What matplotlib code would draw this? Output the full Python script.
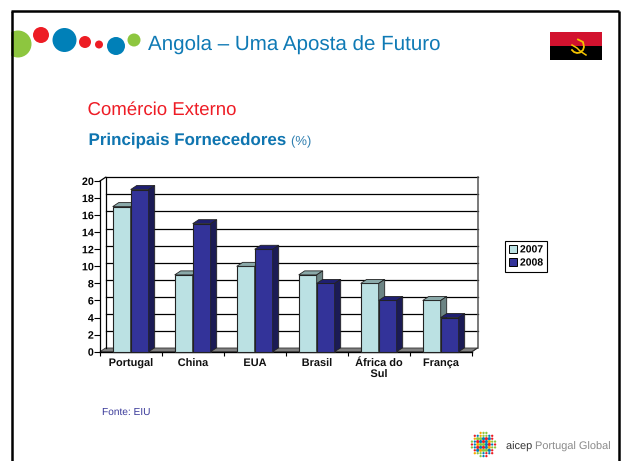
import matplotlib
matplotlib.use("Agg")
import matplotlib.pyplot as plt
import matplotlib.patheffects as pe
from matplotlib.patches import Circle, Polygon, Rectangle

plt.rcParams['font.family'] = ['Liberation Sans', 'DejaVu Sans']
plt.rcParams['text.hinting'] = 'no_hinting'
# texto desenhado como contorno: baselines exatas, sem arredondar ao pixel
plt.rcParams['path.effects'] = [pe.Normal()]

# data
paises = ["Portugal", "China", "EUA", "Brasil", "África do\nSul", "França"]
valores_2007 = [17, 9, 10, 9, 8, 6]
valores_2008 = [19, 15, 12, 8, 6, 4]
y_ticks = list(range(0, 21, 2))

W, H = 623, 461
fig = plt.figure(figsize=(W / 100, H / 100), dpi=100, facecolor="white")

# camada de fundo em pixels (slide)
bg = fig.add_axes([0, 0, 1, 1])
bg.set_xlim(0, W)
bg.set_ylim(H, 0)
bg.axis("off")

# bolas do logotipo
verde, vermelho, azul = "#8dc63f", "#ed1c24", "#0080b8"
bolas = [(18, 44, 13.5, verde), (41, 35, 8, vermelho), (64.5, 40, 12, azul),
         (85, 42, 6, vermelho), (99, 44.5, 4, vermelho), (116, 46, 9, azul),
         (134, 40, 6.5, verde)]
for x, y, r, c in bolas:
    bg.add_patch(Circle((x, y), r, fc=c, ec="none"))
bg.add_patch(Rectangle((0, 0), 11, H, fc="white", ec="none"))

# moldura do slide
bg.plot([11.5, 11.5], [H, 11], color="black", lw=1.8, solid_capstyle="butt")
bg.plot([11, 618.5], [11, 11], color="black", lw=1.8, solid_capstyle="butt")
bg.plot([618.5, 618.5], [11, H], color="black", lw=1.8, solid_capstyle="butt")

bg.text(148, 50, "Angola – Uma Aposta de Futuro", fontsize=14.8, color="#0f7ab5", va="baseline")
bg.text(87.5, 115, "Comércio Externo", fontsize=13.4, color="#ee1c25", va="baseline")
bg.text(88.5, 145, "Principais Fornecedores", fontsize=12.2, color="#0f75b0",
        fontweight="bold", va="baseline")
bg.text(291, 145, "(%)", fontsize=9.4, color="#2f7fb0", va="baseline")
bg.text(102, 415, "Fonte: EIU", fontsize=7.3, color="#3a3a9a", va="baseline")

# bandeira
bg.add_patch(Rectangle((550, 32), 52, 14, fc="#d2122e", ec="none"))
bg.add_patch(Rectangle((550, 46), 52, 14, fc="black", ec="none"))
bg.plot([572, 574, 577, 580, 583, 584, 583, 578], [50, 52, 53, 52.5, 50, 47, 42, 39.5], color="#f5c400", lw=1.3)
bg.plot([572, 577, 580, 586], [45, 48, 51, 55], color="#f5c400", lw=1.1)

# logotipo aicep
cores_logo = ["#ed1c24", "#0080b8", "#8dc63f", "#0080b8", "#f7a600", "#0080b8", "#ed1c24", "#8dc63f"]
k = 0
for i in range(-4, 5):
    for j in range(-4, 5):
        d = (i ** 2 + j ** 2) ** 0.5
        if d <= 4.4:
            r = 1.6 if d < 3 else 1.15
            bg.add_patch(Circle((483.5 + j * 2.9, 444.5 + i * 2.9), r, fc=cores_logo[(k * 3 + i) % 8], ec="none"))
            k += 1
bg.text(506, 449, "aicep", fontsize=7.9, color="#333333", va="baseline")
bg.text(535, 449, "Portugal Global", fontsize=7.9, color="#8a8a8a", va="baseline")

# grafico: o plano frontal fica nos eixos, a profundidade em offset
x0, x1, y0, y1 = 100, 472, 351.7, 181
ax = fig.add_axes([x0 / W, (H - y0) / H, (x1 - x0) / W, (y0 - y1) / H], zorder=2)
ax.patch.set_alpha(0)
n = len(paises)
ax.set_xlim(0, n)
ax.set_ylim(0, 20)
for s in ["top", "right", "bottom", "left"]:
    ax.spines[s].set_visible(False)

px = n / (x1 - x0)
py = 20 / (y0 - y1)
dw_x, dw_y = 5.5 * px, 3.7 * py      # parede
db_x, db_y = 6 * px, 4 * py          # barras

# chao
ax.add_patch(Polygon([(0, 0), (n, 0), (n + dw_x, dw_y), (dw_x, dw_y)], fc="#808080", ec="#333333", lw=0.6, clip_on=False, zorder=1))
# grelha na parede de fundo
for v in y_ticks[1:]:
    ax.plot([dw_x, n + dw_x], [v + dw_y, v + dw_y], color="black", lw=0.9, clip_on=False, zorder=1)
ax.plot([dw_x, dw_x], [dw_y, 20 + dw_y], color="black", lw=0.9, clip_on=False, zorder=1)
ax.plot([n + dw_x, n + dw_x], [dw_y, 20 + dw_y], color="#555555", lw=1.1, clip_on=False, zorder=1)
ax.plot([n, n + dw_x], [0, dw_y], color="#333333", lw=0.7, clip_on=False, zorder=1)

# eixos frontais
ax.plot([0, 0], [0, 20], color="black", lw=0.9, clip_on=False, zorder=1.5)
ax.plot([0, dw_x], [20, 20 + dw_y], color="black", lw=0.9, clip_on=False, zorder=1.5)
ax.plot([0, n], [0, 0], color="black", lw=1.0, clip_on=False, zorder=1.5)

larg = 18 / 62
ini = 12.7 / 62


def barra3d(xb, v, frente, topo, lado, z):
    ax.bar(xb, v, larg, align="edge", color=frente, edgecolor="#222222", lw=0.8, zorder=z, clip_on=False)
    ax.add_patch(Polygon([(xb, v), (xb + larg, v), (xb + larg + db_x, v + db_y), (xb + db_x, v + db_y)],
                         fc=topo, ec="#222222", lw=0.6, clip_on=False, zorder=z))
    ax.add_patch(Polygon([(xb + larg, 0), (xb + larg + db_x, db_y), (xb + larg + db_x, v + db_y), (xb + larg, v)],
                         fc=lado, ec="#222222", lw=0.6, clip_on=False, zorder=z))


for i in range(n):
    barra3d(i + ini, valores_2007[i], "#bbe1e3", "#8aa9a9", "#6c8484", 2 + i * 0.1)
    barra3d(i + ini + larg, valores_2008[i], "#333399", "#1f1f70", "#1b1b55", 2.05 + i * 0.1)

ax.set_yticks(y_ticks)
ax.set_xticks(range(n + 1))
ax.set_xticklabels([""] * (n + 1))
ax.tick_params(axis="y", length=4, width=0.8, pad=0.5, labelsize=7.7)
ax.tick_params(axis="x", length=3, width=0.8)
for lb in ax.get_yticklabels():
    lb.set_fontweight("bold")
# cada linha com baseline propria, para os nomes ficarem alinhados
for i, nome in enumerate(paises):
    for j, linha in enumerate(nome.split("\n")):
        ax.text(i + 0.5, -(14.3 + j * 11) * py, linha, ha="center", va="baseline", fontsize=7.9,
                fontweight="bold", color="#111111")

# legenda
h = [Rectangle((0, 0), 1, 1, fc="#bbe1e3", ec="black", lw=0.7),
     Rectangle((0, 0), 1, 1, fc="#333399", ec="black", lw=0.7)]
leg = fig.legend(h, ["2007", "2008"], loc="center", bbox_to_anchor=(526 / W, (H - 256.3) / H),
                 fancybox=False, framealpha=1, edgecolor="black",
                 prop={"weight": "bold", "size": 7.5}, handlelength=0.75, handleheight=0.75,
                 handletextpad=0.3, borderpad=0.4, labelspacing=0.35, borderaxespad=0)
leg.get_frame().set_linewidth(0.8)

fig.savefig("out.png", dpi=100)
